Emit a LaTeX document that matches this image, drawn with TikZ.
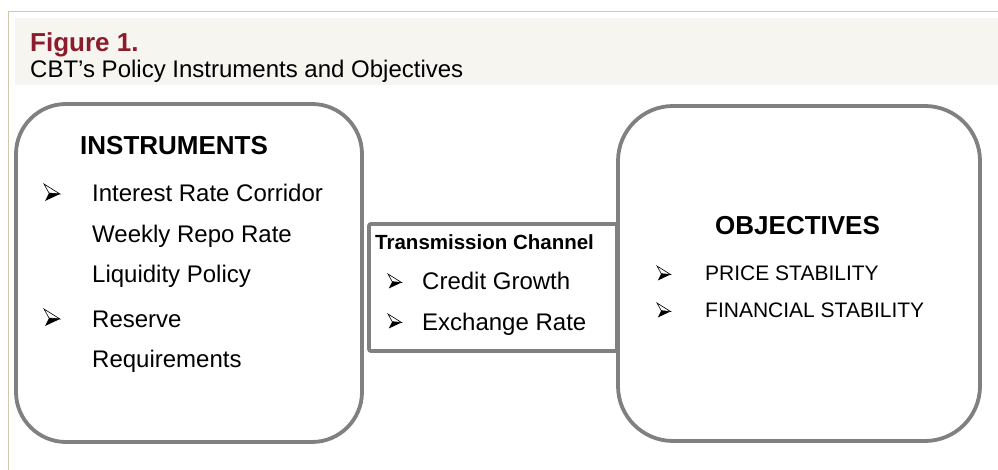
\documentclass[tikz,border=0pt]{standalone}
\usepackage{fontspec}
\setmainfont{Liberation Sans}
\definecolor{framebrown}{HTML}{D6C7AC}
\definecolor{bandgrey}{HTML}{F6F5F0}
\definecolor{figred}{HTML}{8C1C2C}
\definecolor{boxgrey}{HTML}{808080}
\tikzset{
  panel/.style = {draw=boxgrey, line width=3.8pt, rounded corners=50pt, inner sep=0pt},
  txt/.style = {anchor=base west, inner sep=0pt, font=\fontsize{24}{28}\selectfont},
  smalltxt/.style = {anchor=base west, inner sep=0pt, font=\fontsize{21}{25}\selectfont},
  headtxt/.style = {anchor=base west, inner sep=0pt, font=\bfseries\fontsize{26}{30}\selectfont},
  pics/arrbul/.style = {code={
    \draw [line width=0.6pt, line join=miter] (0,0) -- (16,10) -- (5,9) -- cycle;
    \fill (5,9) -- (16,10) -- (1,17) -- cycle;
  }},
}
\begin{document}
\begin{tikzpicture}[x=1pt, y=-1pt]
\useasboundingbox (0,0) rectangle (998,470);
\fill [bandgrey] (15,18) rectangle (998,85);
\draw [framebrown, line width=1pt] (8,470) -- (8,12) -- (998,12);

\node [headtxt, text=figred] (fig) at (30,52) {Figure 1.};
\node [txt] (title) at (30,78) {CBT’s Policy Instruments and Objectives};

\node [panel, minimum width=346pt, minimum height=338pt] (instr) at (189,273) {};
\node [panel, rounded corners=2pt, minimum width=248pt, minimum height=127pt] (chan) at (493,287.5) {};
\node [panel, rounded corners=55pt, minimum width=362pt, minimum height=335pt] (obj) at (799,273.5) {};

\node [headtxt] (instrhead) at (80,155) {INSTRUMENTS};
\node [txt] (corridor) at (92,202) {Interest Rate Corridor};
\node [txt] (repo) at (92,243) {Weekly Repo Rate};
\node [txt] (liquidity) at (92,283) {Liquidity Policy};
\node [txt] (reserve) at (92,327) {Reserve};
\node [txt] (require) at (92,367) {Requirements};
\pic at (44,184) {arrbul};
\pic at (44,309) {arrbul};

\node [anchor=base west, inner sep=0pt, font=\bfseries\fontsize{20.5}{24}\selectfont] (chanhead) at (375,250) {Transmission Channel};
\node [txt] (credit) at (422,290) {Credit Growth};
\node [txt] (exchange) at (422,330) {Exchange Rate};
\pic [scale=0.85] at (388,274) {arrbul};
\pic [scale=0.85] at (388,314) {arrbul};

\node [headtxt] (objhead) at (715,235) {OBJECTIVES};
\node [smalltxt] (price) at (705,280) {PRICE STABILITY};
\node [smalltxt] (financial) at (705,317) {FINANCIAL STABILITY};
\pic [scale=0.85] at (657,266) {arrbul};
\pic [scale=0.85] at (657,303) {arrbul};
\end{tikzpicture}
\end{document}
